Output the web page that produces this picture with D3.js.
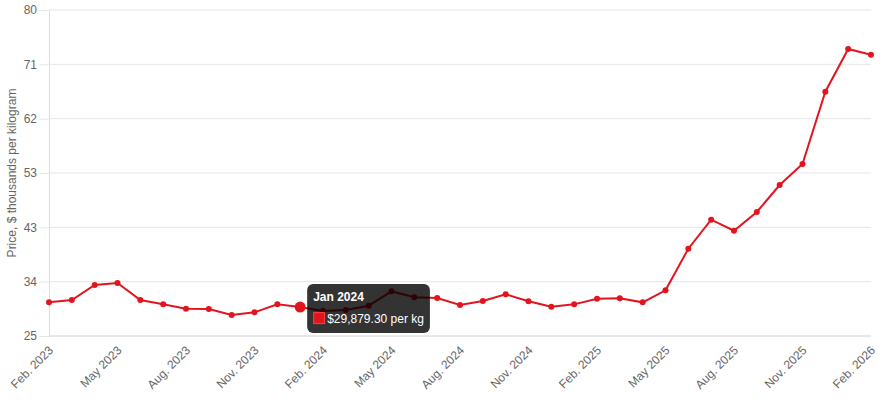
<!DOCTYPE html>
<head>
<meta charset="utf-8">
<title>price chart</title>
<style>
html, body { margin:0; padding:0; overflow:hidden; background-color: #fff; }
svg { position:absolute; top:0; left:0; }
text { font-family: "Liberation Sans", Arial, Helvetica, sans-serif; }
</style>
</head>
<body>
<svg id="stage" width="884" height="400"></svg>

<script src="https://d3js.org/d3.v7.min.js"></script>
<script>

var months = [
"2023-02","2023-03","2023-04","2023-05","2023-06","2023-07","2023-08","2023-09","2023-10","2023-11","2023-12",
"2024-01","2024-02","2024-03","2024-04","2024-05","2024-06","2024-07","2024-08","2024-09","2024-10","2024-11","2024-12",
"2025-01","2025-02","2025-03","2025-04","2025-05","2025-06","2025-07","2025-08","2025-09","2025-10","2025-11","2025-12",
"2026-01","2026-02"
];

// $ thousands per kg
var prices = [
30.68, 31.07, 33.60, 33.94, 31.07, 30.34, 29.61, 29.55, 28.54, 28.99, 30.34,
29.88, 29.20, 29.38, 30.11, 32.54, 31.53, 31.41, 30.23, 30.90, 32.03, 30.85, 29.94,
30.34, 31.29, 31.35, 30.68, 32.71, 39.73, 44.62, 42.76, 45.92, 50.47, 54.02, 66.22,
73.42, 72.46
];

var xTickMonths = ["2023-02","2023-05","2023-08","2023-11","2024-02","2024-05","2024-08","2024-11","2025-02","2025-05","2025-08","2025-11","2026-02"];
var xTickLabels = ["Feb. 2023","May 2023","Aug. 2023","Nov. 2023","Feb. 2024","May 2024","Aug. 2024","Nov. 2024","Feb. 2025","May 2025","Aug. 2025","Nov. 2025","Feb. 2026"];

var yTicks = [25, 34.1667, 43.3333, 52.5, 61.6667, 70.8333, 80];

var tipMonth = "2024-01",
    tipTitle = "Jan 2024",
    tipBody = "$29,879.30 per kg";

var red = "#e2151f";

var svg = d3.select("#stage"),
    plotL = 49, plotR = 871, plotT = 10, plotB = 336;

var x = d3.scalePoint().domain(months).range([plotL, plotR]);
var y = d3.scaleLinear().domain([25, 80]).range([plotB, plotT]);

// grid + y axis
var yAxis = svg.append("g")
    .attr("transform", "translate(" + plotL + ",0)")
    .call(d3.axisLeft(y).tickValues(yTicks).tickSize(10).tickPadding(2)
      .tickFormat(function(d) { return Math.round(d); }));
yAxis.select(".domain").attr("stroke", "#ddd");
yAxis.selectAll(".tick line").attr("stroke", "#e5e5e5");
yAxis.selectAll(".tick text").attr("fill", "#666").style("font-size", "12px");

svg.append("g").selectAll("line")
  .data(yTicks.slice(1))
  .enter().append("line")
    .attr("x1", plotL).attr("x2", plotR)
    .attr("y1", function(d) { return y(d); })
    .attr("y2", function(d) { return y(d); })
    .attr("stroke", "#e5e5e5");

// x axis
svg.append("line")
    .attr("x1", plotL).attr("x2", plotR)
    .attr("y1", plotB).attr("y2", plotB)
    .attr("stroke", "#d0d0d0");

svg.append("g").selectAll("text")
  .data(xTickMonths)
  .enter().append("text")
    .attr("transform", function(d) { return "translate(" + (x(d) + 2) + "," + (plotB + 12) + ") rotate(-45)"; })
    .attr("text-anchor", "end")
    .attr("dy", "0.35em")
    .attr("fill", "#666")
    .style("font-size", "12px")
    .text(function(d, i) { return xTickLabels[i]; });

svg.append("text")
    .attr("transform", "translate(16," + ((plotT + plotB) / 2) + ") rotate(-90)")
    .attr("text-anchor", "middle")
    .attr("fill", "#666")
    .style("font-size", "12px")
    .text("Price, $ thousands per kilogram");

// series
var line = d3.line()
    .x(function(d, i) { return x(months[i]); })
    .y(function(d) { return y(d); });

svg.append("path")
    .datum(prices)
    .attr("d", line)
    .attr("fill", "none")
    .attr("stroke", red)
    .attr("stroke-width", 2);

svg.append("g").selectAll("circle")
  .data(prices)
  .enter().append("circle")
    .attr("cx", function(d, i) { return x(months[i]); })
    .attr("cy", function(d) { return y(d); })
    .attr("r", 3)
    .attr("fill", red);

// hover state
var ti = months.indexOf(tipMonth),
    px = x(tipMonth), py = y(prices[ti]);

svg.append("circle")
    .attr("cx", px).attr("cy", py).attr("r", 5.5)
    .attr("fill", red);

var tip = svg.append("g").attr("transform", "translate(" + (px + 7) + "," + (py - 23) + ")");
var box = tip.append("rect")
    .attr("height", 49).attr("rx", 6)
    .attr("fill", "rgba(0,0,0,0.8)");
tip.append("text")
    .attr("x", 6).attr("y", 17)
    .attr("fill", "#fff")
    .style("font-size", "12px").style("font-weight", "bold")
    .text(tipTitle);
tip.append("rect")
    .attr("x", 6.5).attr("y", 28.5).attr("width", 11).attr("height", 11)
    .attr("fill", red).attr("stroke", "#ff4040");
var body = tip.append("text")
    .attr("x", 20).attr("y", 38.5)
    .attr("fill", "#fff")
    .style("font-size", "12px")
    .text(tipBody);
box.attr("width", 20 + body.node().getComputedTextLength() + 6);

</script>
</body>
